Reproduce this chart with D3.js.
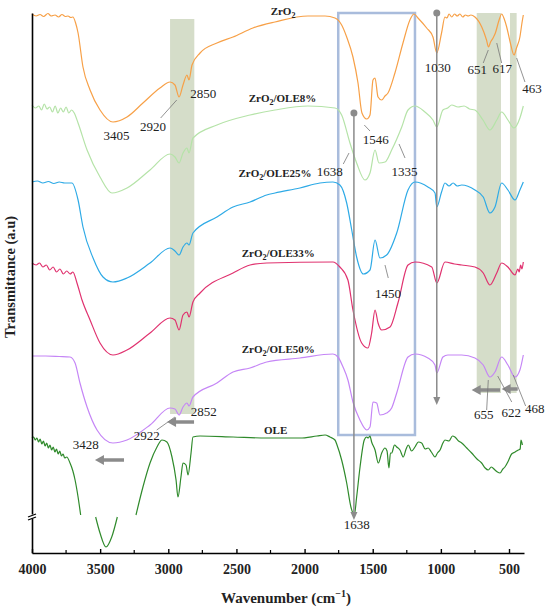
<!DOCTYPE html>
<html>
<head>
    <meta charset="UTF-8">
    <title>FTIR spectra ZrO2 / OLE</title>
    <style>
        body { margin: 0; background: #fff; }
        svg text { font-family: "Liberation Serif", "Times New Roman", serif; fill: #222; }
        .series-label { font-size: 11px; font-weight: bold; }
        .peak-label { font-size: 13px; }
        .axis-title { font-size: 15px; font-weight: bold; }
        .tick text { font-size: 14px; font-weight: bold; }
        .spectrum { fill: none; stroke-width: 1.2; stroke-linejoin: round; }
    </style>
    <script src="https://d3js.org/d3.v7.min.js"></script>
</head>
<body>
<div id="chart"></div>
<script>
    // tick values of the wavenumber axis
    const majorTicks = [4000, 3500, 3000, 2500, 2000, 1500, 1000, 500];
    const minorTicks = [3750, 3250, 2750, 2250, 1750, 1250, 750];

    const seriesNames = ["ZrO2", "ZrO2/OLE8%", "ZrO2/OLE25%", "ZrO2/OLE33%", "ZrO2/OLE50%", "OLE"];
    const seriesColors = ["#f7a047", "#b5e3a8", "#2eaae6", "#e0326f", "#c586f6", "#2f8a2b"];

    // [wavenumber, transmittance (a.u., stacked)]
    const zro2 = [[4000,539],[3970,537],[3941,538.5],[3915,536.5],[3883,539.5],[3860,537],[3831,538],[3805,536],[3780,538.5],[3755,536.5],[3736,537],[3715,535.5],[3700,536],[3680,530],[3662,520],[3626,486],[3574,463],[3501,443],[3406,431],[3303,436],[3186,450],[3061,465],[2987,471],[2951,468],[2921,456],[2892,468],[2863,478],[2848,473],[2826,488],[2767,500],[2643,510],[2525,516],[2379,525],[2217,531],[1975,537],[1850,537],[1777,535],[1728,528],[1691,516],[1645,496],[1608,470],[1579,440],[1544,434],[1520,438],[1498,473],[1483,475],[1461,456],[1434,453],[1410,457],[1388,460],[1337,480],[1278,510],[1227,533],[1197,539],[1168,535],[1104,525],[1058,516],[1030,500],[995,520],[970,536],[955,535],[940,539],[920,536],[900,539],[880,537],[860,539],[840,536],[820,538],[800,537],[780,538],[750,536],[700,526],[665,513],[651,506],[635,511],[617,515],[600,520],[575,532],[554,539],[535,534],[517,526],[490,510],[463,498],[445,505],[420,516],[405,530],[395,538]];
    const ole8 = [[4000,448],[3975,445],[3950,447],[3930,443],[3910,449],[3890,444],[3870,446],[3850,441],[3830,447],[3810,440],[3790,445],[3770,441],[3750,446],[3730,440],[3710,443],[3690,440],[3662,430],[3596,403],[3501,376],[3413,360],[3303,365],[3134,383],[2987,399],[2951,396],[2921,390],[2892,400],[2863,405],[2848,400],[2819,415],[2643,428],[2400,438],[2217,443],[1975,447],[1777,445],[1728,438],[1667,410],[1618,390],[1557,373],[1520,380],[1483,403],[1454,390],[1410,391],[1361,403],[1287,426],[1241,443],[1190,447],[1117,441],[1058,433],[1030,426],[985,443],[950,445],[920,448],[874,446],[830,447],[790,444],[750,443],[691,433],[640,423],[590,433],[554,441],[508,433],[464,425],[420,435],[395,447]];
    const ole25 = [[4000,371],[3960,372],[3920,370],[3880,371.5],[3840,369.5],[3800,371],[3760,370],[3707,370],[3662,353],[3626,326],[3552,295],[3479,276],[3406,271],[3303,275],[3134,290],[2987,305],[2951,302],[2921,298],[2892,306],[2863,310],[2848,308],[2819,320],[2643,336],[2525,346],[2400,351],[2278,358],[2217,360],[2034,365],[1887,370],[1792,371],[1741,368],[1691,350],[1654,323],[1618,296],[1569,279],[1520,283],[1483,313],[1447,295],[1398,298],[1324,320],[1241,363],[1190,371],[1095,366],[1043,360],[1030,346],[995,361],[970,370],[940,367],[910,370],[880,367],[847,368],[750,363],[689,356],[640,340],[603,346],[554,370],[508,363],[456,353],[420,363],[395,371]];
    const ole33 = [[4000,290],[3970,288],[3945,290],[3920,286],[3895,288],[3870,283],[3845,286],[3820,281],[3795,284],[3770,279],[3745,282],[3720,279],[3700,281],[3670,270],[3633,253],[3574,233],[3501,210],[3406,198],[3303,203],[3134,220],[2987,235],[2951,233],[2921,223],[2892,238],[2863,241],[2848,236],[2819,251],[2767,260],[2525,280],[2400,288],[2278,290],[1792,291],[1741,286],[1682,273],[1645,243],[1581,210],[1535,205],[1508,220],[1483,243],[1461,230],[1434,223],[1373,226],[1315,250],[1241,288],[1190,291],[1067,286],[1030,270],[970,291],[900,289],[847,288],[750,286],[689,280],[640,268],[590,280],[554,290],[508,286],[456,278],[435,284],[425,281],[415,288],[405,284],[395,291]];
    const ole50 = [[4000,197],[3900,197],[3800,196.5],[3721,196],[3684,190],[3648,170],[3596,146],[3523,123],[3406,110],[3303,113],[3134,128],[2987,145],[2951,144],[2921,138],[2892,146],[2863,150],[2848,147],[2819,156],[2643,170],[2525,181],[2400,185],[2278,191],[2034,195],[1792,199],[1755,196],[1718,186],[1682,173],[1645,151],[1594,133],[1544,123],[1520,126],[1498,151],[1471,150],[1447,138],[1398,140],[1361,145],[1324,160],[1241,196],[1190,199],[1095,195],[1043,188],[1030,180],[985,196],[948,198],[847,198],[750,195],[689,188],[640,176],[603,181],[554,196],[508,188],[456,176],[420,183],[395,198]];
    // null = break of the broken y axis
    const ole = [[4000,115],[3988,116],[3976,113],[3964,115],[3952,111],[3940,114],[3928,109],[3916,112],[3904,107],[3892,110],[3880,105],[3868,108],[3856,103],[3844,106],[3832,101],[3820,104],[3808,99],[3796,102],[3784,97],[3772,99],[3760,95],[3745,96],[3721,90],[3700,82],[3684,73],[3662,56],[3643,38],null,
        [3533,36],[3501,20],[3457,6],[3415,16],[3374,36],null,
        [3237,38],[3186,66],[3134,90],[3083,106],[3046,113],[3010,111],[2973,96],[2943,73],[2929,56],[2907,76],[2892,90],[2870,88],[2855,78],[2833,100],[2819,116],[2767,117],[2525,116],[2278,115],[2034,115],[1909,117],[1850,118],[1814,116],[1777,113],[1762,108],[1728,93],[1691,70],[1660,46],[1635,38],[1618,56],[1593,86],[1562,113],[1545,116],[1533,115],[1520,117],[1508,111],[1483,103],[1459,90],[1434,100],[1410,105],[1395,102],[1381,85],[1370,100],[1361,100],[1340,108],[1324,106],[1300,103],[1276,96],[1255,104],[1239,108],[1215,102],[1190,106],[1165,111],[1141,110],[1115,104],[1093,105],[1070,101],[1043,96],[1025,100],[1006,103],[985,110],[970,113],[940,112],[915,117],[897,116],[870,112],[847,110],[810,105],[774,100],[735,94],[701,90],[675,85],[652,83],[630,86],[603,83],[585,81],[566,80],[545,84],[530,86],[505,92],[481,99],[455,101],[432,103],[418,104],[412,113],[405,110],[402,108]];
    const spectra = [zro2, ole8, ole25, ole33, ole50, ole];

    // series name positions [wavenumber, a.u.]
    const namePos = [[2158,538],[2162,451],[2217,376],[2193,296],[2193,200],[2212,119]];

    // peak labels: text, wavenumber, a.u.
    const peakLabels = [
        ["3405",3380,413],["2920",3112,422],["2850",2743,455],["1546",1478,409],
        ["1638",1816,377],["1335",1267,377],["1030",1023,481],["651",733,479],
        ["617",550,480],["463",332,460],["1450",1388,255],["2852",2739,137],
        ["2922",3158,113],["3428",3605,104],["655",686,134],["622",483,136],
        ["468",312,140],["1638",1617,24]
    ];
    // leader lines [w1, v1, w2, v2]
    const leaders = [
        [3056,435,2938,453],[1562,428,1520,422],[1716,389,1674,400],[1307,409,1263,395],
        [689,490,652,503],[554,490,590,510],[383,471,444,495],[1410,288,1386,275],
        [3085,123,2951,136],[664,143,652,173],[480,151,583,177],[378,147,469,178]
    ];
    // shaded bands [w from, w to, v top, v bottom]
    const bands = [[2987,2809,534,139],[737,559,540,160],[493,444,540,160]];
    const boxRegion = [1753, 1190, 540, 118];
    // vertical marker arrows [w, v top, v tip]
    const markers = [[1030,540,148],[1638,440,33]];
    // shift arrows [w tail, w head, v]
    const shifts = [[2811,3009,131],[3325,3538,93],[566,774,163],[436,554,164]];

    function init() {
        const W = 550, H = 611;
        const svg = d3.select("#chart").append("svg")
            .attr("width", W).attr("height", H);

        const x = d3.scaleLinear().domain([4000, 390]).range([32, 524]);
        const y = d3.scaleLinear().domain([0, 540]).range([553, 13]);

        // bands
        svg.selectAll(".band").data(bands).enter().append("rect")
            .attr("class", "band")
            .attr("x", d => x(d[0])).attr("width", d => x(d[1]) - x(d[0]))
            .attr("y", d => y(d[2])).attr("height", d => y(d[3]) - y(d[2]))
            .attr("fill", "#d5ddc9");

        // box
        svg.append("rect")
            .attr("x", x(boxRegion[0])).attr("width", x(boxRegion[1]) - x(boxRegion[0]))
            .attr("y", y(boxRegion[2])).attr("height", y(boxRegion[3]) - y(boxRegion[2]))
            .attr("fill", "none").attr("stroke", "#a9bcdc").attr("stroke-width", 2.5);

        // spectra
        const line = d3.line()
            .defined(d => d !== null)
            .curve(d3.curveMonotoneX)
            .x(d => x(d[0])).y(d => y(d[1]));
        svg.selectAll(".spectrum").data(spectra).enter().append("path")
            .attr("class", "spectrum")
            .attr("stroke", (d, i) => seriesColors[i])
            .attr("d", line);

        // vertical marker arrows
        const grey = "#8b8b8b";
        markers.forEach(m => {
            const px = x(m[0]), top = y(m[1]), tip = y(m[2]);
            svg.append("line").attr("x1", px).attr("x2", px).attr("y1", top).attr("y2", tip - 6)
                .attr("stroke", grey).attr("stroke-width", 1.5);
            svg.append("circle").attr("cx", px).attr("cy", top).attr("r", 3.5).attr("fill", grey);
            svg.append("path")
                .attr("d", `M${px - 3.5},${tip - 8}L${px + 3.5},${tip - 8}L${px},${tip}Z`)
                .attr("fill", grey);
        });

        // shift arrows (pointing to higher wavenumber)
        shifts.forEach(s => {
            const x1 = x(s[0]), x2 = x(s[1]), py = y(s[2]);
            svg.append("line").attr("x1", x1).attr("x2", x2 + 8).attr("y1", py).attr("y2", py)
                .attr("stroke", grey).attr("stroke-width", 3.5);
            svg.append("path")
                .attr("d", `M${x2},${py}L${x2 + 9},${py - 5}L${x2 + 9},${py + 5}Z`)
                .attr("fill", grey);
        });

        // leader lines
        svg.selectAll(".leader").data(leaders).enter().append("line")
            .attr("class", "leader")
            .attr("x1", d => x(d[0])).attr("y1", d => y(d[1]))
            .attr("x2", d => x(d[2])).attr("y2", d => y(d[3]))
            .attr("stroke", "#777").attr("stroke-width", 0.8);

        // peak labels
        svg.selectAll(".peak-label").data(peakLabels).enter().append("text")
            .attr("class", "peak-label")
            .attr("text-anchor", "middle")
            .attr("x", d => x(d[1])).attr("y", d => y(d[2]))
            .text(d => d[0]);

        // series names with subscript 2
        seriesNames.forEach((name, i) => {
            const t = svg.append("text").attr("class", "series-label")
                .attr("text-anchor", "middle")
                .attr("x", x(namePos[i][0])).attr("y", y(namePos[i][1]));
            if (name.startsWith("ZrO2")) {
                t.append("tspan").text("ZrO");
                t.append("tspan").attr("dy", 3).style("font-size", "8px").text("2");
                t.append("tspan").attr("dy", -3).text(name.slice(4));
            } else {
                t.text(name);
            }
        });

        // x axis, ticks pointing inward
        const xAxis = svg.append("g")
            .attr("transform", `translate(0,${y(0)})`)
            .call(d3.axisBottom(x).tickValues(majorTicks).tickFormat(d3.format("d"))
                .tickSize(-4).tickSizeOuter(0).tickPadding(11));
        xAxis.select(".domain").attr("stroke", "#000").attr("stroke-width", 1.6);
        xAxis.selectAll(".tick line").attr("stroke", "#000").attr("stroke-width", 1.4);
        xAxis.selectAll(".tick text").attr("fill", "#222");
        svg.append("g").selectAll("line").data(minorTicks).enter().append("line")
            .attr("x1", d => x(d)).attr("x2", d => x(d))
            .attr("y1", y(0)).attr("y2", y(0) - 3)
            .attr("stroke", "#000").attr("stroke-width", 1.2);

        // y axis (no ticks)
        const yAxis = svg.append("g")
            .attr("transform", `translate(${x(4000)},0)`)
            .call(d3.axisLeft(y).tickValues([]).tickSizeOuter(0));
        yAxis.select(".domain").attr("stroke", "#000").attr("stroke-width", 1.6);

        // axis break marks
        const by = y(36), bx = x(4000);
        svg.append("rect").attr("x", bx - 4).attr("y", by - 2.5).attr("width", 8).attr("height", 4).attr("fill", "#fff");
        [-1.5, 1.5].forEach(o => {
            svg.append("line").attr("x1", bx - 4).attr("y1", by + o + 1.5).attr("x2", bx + 4).attr("y2", by + o - 1.5)
                .attr("stroke", "#000").attr("stroke-width", 1.3);
        });

        // axis titles
        const xt = svg.append("text").attr("class", "axis-title")
            .attr("text-anchor", "middle").attr("x", 286).attr("y", 603);
        xt.append("tspan").text("Wavenumber (cm");
        xt.append("tspan").attr("dy", -6).style("font-size", "10px").text("\u22121");
        xt.append("tspan").attr("dy", 6).text(")");

        svg.append("text").attr("class", "axis-title")
            .attr("text-anchor", "middle")
            .attr("transform", "translate(15,277) rotate(-90)")
            .style("font-size", "14.5px")
            .text("Transmittance (a.u)");
    }
    init();
</script>
</body>
</html>
